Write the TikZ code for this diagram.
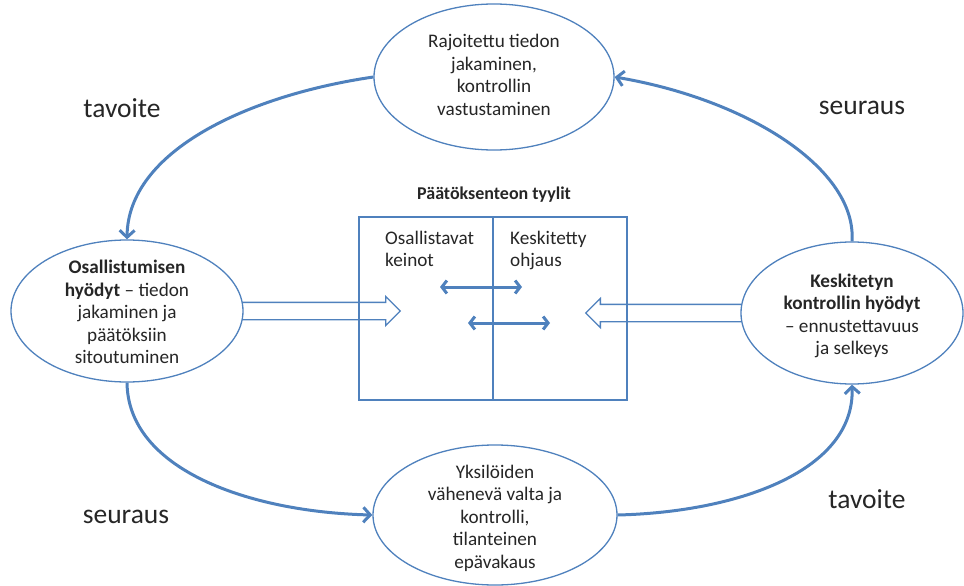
\documentclass[tikz,border=0pt]{standalone}
\usepackage{fontspec}
\setmainfont{Carlito}
\usetikzlibrary{shapes.geometric,shapes.arrows,arrows.meta,backgrounds}
\definecolor{edge}{HTML}{4F81BD}
\definecolor{ink}{HTML}{262626}
\begin{document}
\begin{tikzpicture}[x=1pt,y=-1pt,
  bubble/.style={ellipse, draw=edge, line width=1.3pt, fill=white, inner sep=0pt},
  bubbletext/.style={text=ink, align=center, font=\fontsize{19.2}{22.5}\selectfont, inner sep=0pt},
  boxtext/.style={text=ink, align=left, font=\fontsize{19.2}{22}\selectfont, inner sep=0pt, anchor=north west},
  cyclearrow/.style={draw=edge, line width=3pt, -{Straight Barb[length=7pt,width=15pt]}},
  tag/.style={text=ink, font=\fontsize{27.5}{32}\selectfont, inner sep=0pt},
  hollow/.style={single arrow, draw=edge, line width=1.3pt, fill=white, inner sep=8pt,
    single arrow head extend=6pt, minimum height=160pt, anchor=tail},
  swaparrow/.style={draw=edge, line width=3pt,
    {Straight Barb[length=5pt,width=13pt]}-{Straight Barb[length=5pt,width=13pt]}}
]
\useasboundingbox (0,0) rectangle (964,586);

% the four outcome bubbles
\node[bubble, minimum width=240pt, minimum height=146pt] (T) at (494,77) {};
\node[bubble, minimum width=232pt, minimum height=142pt] (L) at (127,311) {};
\node[bubble, minimum width=222pt, minimum height=142pt] (R) at (852,313) {};
\node[bubble, minimum width=244pt, minimum height=140pt] (B) at (495,515) {};

\node[bubbletext] (Ttxt) at (494,75) {Rajoitettu tiedon\\jakaminen,\\kontrollin\\vastustaminen};
\node[bubbletext] (Ltxt) at (127,312) {\textbf{Osallistumisen}\\\textbf{hyödyt} – tiedon\\jakaminen ja\\päätöksiin\\sitoutuminen};
\node[bubbletext] (Rtxt) at (852,316) {\textbf{Keskitetyn}\\\textbf{kontrollin hyödyt}\\– ennustettavuus\\ja selkeys};
\node[bubbletext] (Btxt) at (495,518) {Yksilöiden\\vähenevä valta ja\\kontrolli,\\tilanteinen\\epävakaus};

% decision-style box
\node[draw=edge, line width=1.3pt, minimum width=268pt, minimum height=183pt, inner sep=0pt] (box) at (493,308.5) {};
\draw[edge, line width=2.5pt] (box.north) -- (box.south);
\node[text=ink, font=\fontsize{18}{21}\bfseries, anchor=base] (title) at (494,199) {Päätöksenteon tyylit};
\node[boxtext] (left) at (385,231) {Osallistavat\\keinot};
\node[boxtext] (right) at (510,231) {Keskitetty\\ohjaus};

\coordinate (s1a) at (440,287);
\coordinate (s1b) at (522,287);
\coordinate (s2a) at (468,323);
\coordinate (s2b) at (550,323);
\draw[swaparrow] (s1a) -- (s1b);
\draw[swaparrow] (s2a) -- (s2b);

% broad arrows feeding the box
\begin{scope}[on background layer]
  \node[hollow] (inL) at ([xshift=-4pt]L.east) {};
  \node[hollow, shape border rotate=180, minimum height=158pt] (inR) at ([xshift=4pt]R.west) {};
\end{scope}

% the cycle
\draw[cyclearrow] (T.west) .. controls (250,95) and (128,150) .. (L.north);
\draw[cyclearrow] (R.north) .. controls (857,170) and (750,100) .. (T.east);
\draw[cyclearrow] (L.south) .. controls (128,470) and (250,512) .. (B.west);
\draw[cyclearrow] (B.east) .. controls (740,512) and (855,470) .. (R.south);

\node[tag] (tg1) at (122,108) {tavoite};
\node[tag] (sq1) at (862,108) {seuraus};
\node[tag] (sq2) at (126,517) {seuraus};
\node[tag] (tg2) at (867,499) {tavoite};
\end{tikzpicture}
\end{document}
